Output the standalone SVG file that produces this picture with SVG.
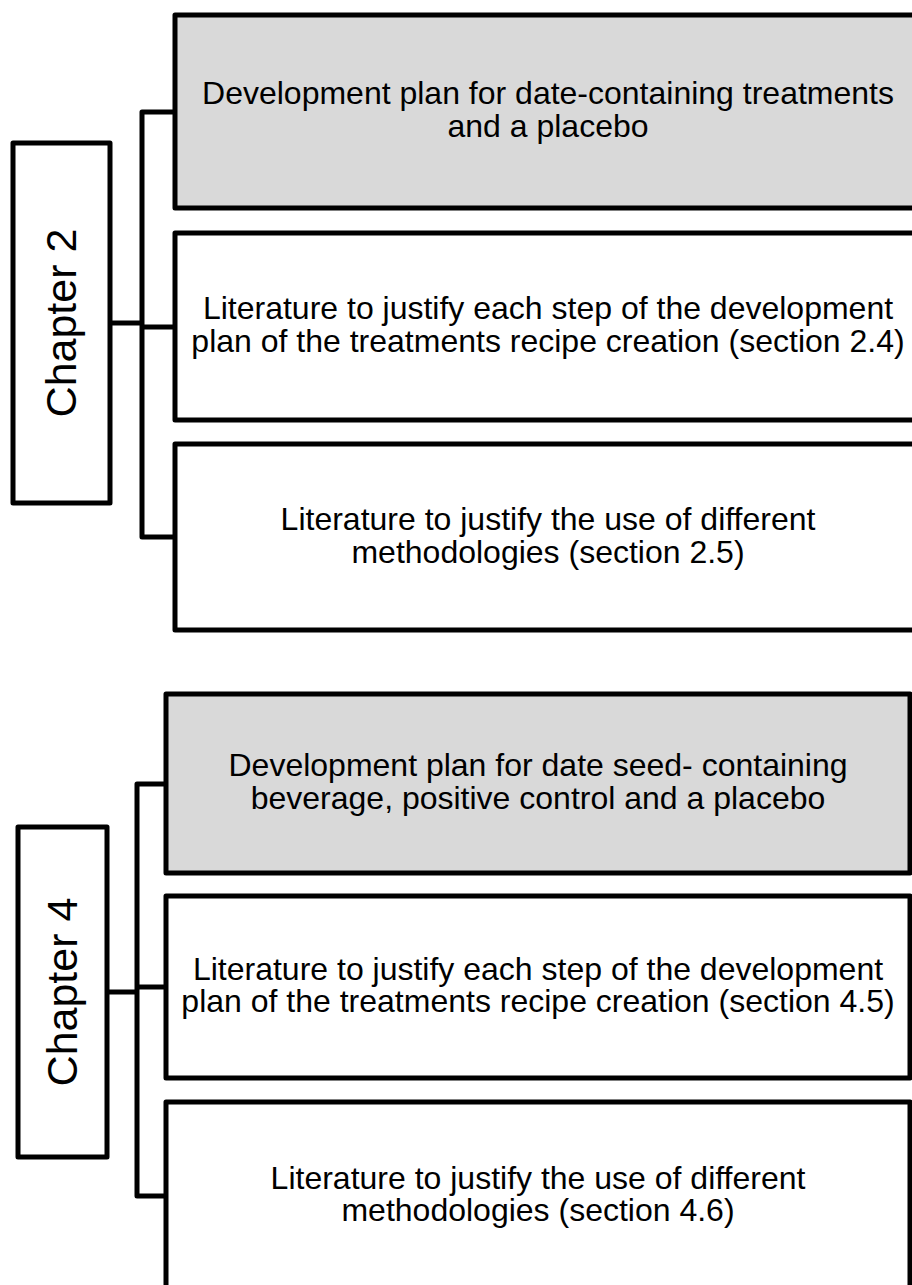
<svg xmlns="http://www.w3.org/2000/svg" width="912" height="1285" viewBox="0 0 912 1285">
<style>
.box{fill:#ffffff;stroke:#000;stroke-width:5;stroke-linejoin:round}
.grey{fill:#d9d9d9}
.conn{fill:none;stroke:#000;stroke-width:5;stroke-linejoin:round}
.t{font-family:"Liberation Sans",Arial,sans-serif;font-size:32px;fill:#000;text-anchor:middle}
.ch{font-family:"Liberation Sans",Arial,sans-serif;font-size:43px;fill:#000;text-anchor:middle}
</style>
<rect width="912" height="1285" fill="#ffffff"/>
<g id="connectors">
<path class="conn" d="M175,112 H142 V537 H175"/>
<path class="conn" d="M110,323 H142"/>
<path class="conn" d="M142,327 H175"/>
<path class="conn" d="M166,784 H137 V1196 H166"/>
<path class="conn" d="M107,992 H137"/>
<path class="conn" d="M137,987 H166"/>
</g>
<g id="chapter2">
<rect class="box" x="13" y="143" width="97" height="360"/>
<text class="ch" transform="translate(76,323) rotate(-90)" x="0" y="0">Chapter 2</text>
</g>
<g id="node1">
<rect class="box grey" x="175" y="15" width="746" height="193"/>
<text class="t" x="548" y="104">Development plan for date-containing treatments</text>
<text class="t" x="548" y="136.5">and a placebo</text>
</g>
<g id="node2">
<rect class="box" x="175" y="233" width="746" height="187"/>
<text class="t" x="548" y="319">Literature to justify each step of the development</text>
<text class="t" x="548" y="351.5">plan of the treatments recipe creation (section 2.4)</text>
</g>
<g id="node3">
<rect class="box" x="175" y="444" width="746" height="186"/>
<text class="t" x="548" y="530">Literature to justify the use of different</text>
<text class="t" x="548" y="562.5">methodologies (section 2.5)</text>
</g>
<g id="chapter4">
<rect class="box" x="18" y="827" width="89" height="330"/>
<text class="ch" transform="translate(77,992) rotate(-90)" x="0" y="0">Chapter 4</text>
</g>
<g id="node4">
<rect class="box grey" x="166" y="694" width="744" height="179"/>
<text class="t" x="538" y="776">Development plan for date seed- containing</text>
<text class="t" x="538" y="808.5">beverage, positive control and a placebo</text>
</g>
<g id="node5">
<rect class="box" x="166" y="896" width="744" height="182"/>
<text class="t" x="538" y="979.5">Literature to justify each step of the development</text>
<text class="t" x="538" y="1012">plan of the treatments recipe creation (section 4.5)</text>
</g>
<g id="node6">
<rect class="box" x="166" y="1102" width="744" height="190"/>
<text class="t" x="538" y="1188.5">Literature to justify the use of different</text>
<text class="t" x="538" y="1221">methodologies (section 4.6)</text>
</g>
</svg>
